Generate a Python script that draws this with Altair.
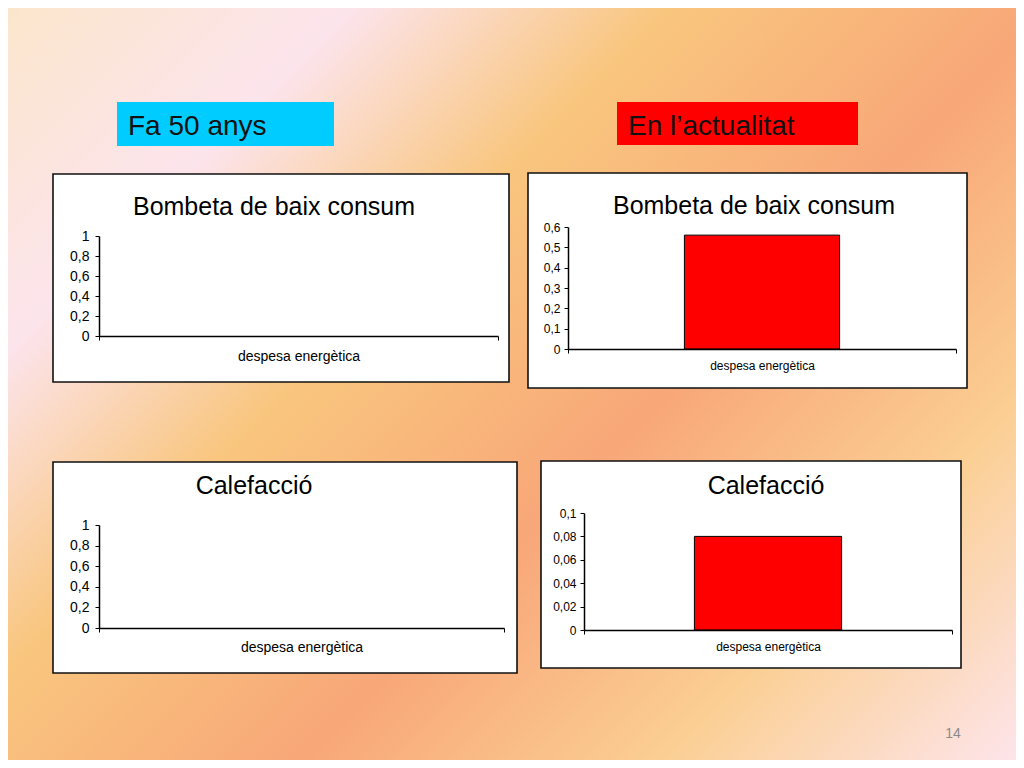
import altair as alt
import pandas as pd

# ---------------- data ----------------
categories = ["despesa energètica"]
fa50_bombeta = [0.0]
fa50_calefaccio = [0.0]
actual_bombeta = [0.56]
actual_calefaccio = [0.08]

panel_titles = ["Bombeta de baix consum", "Bombeta de baix consum", "Calefacció", "Calefacció"]
header_labels = ["Fa 50 anys", "En l’actualitat"]
ticks_fa50 = [0, 0.2, 0.4, 0.6, 0.8, 1]
ticks_bombeta = [0, 0.1, 0.2, 0.3, 0.4, 0.5, 0.6]
ticks_calefaccio = [0, 0.02, 0.04, 0.06, 0.08, 0.1]
page_number = "14"

# ---------------- layout (page coordinates) ----------------
OFF = 8
W, H = 1008, 752
FONT = "Liberation Sans"


def px(v):
    return v - OFF


panels = [
    dict(values=fa50_bombeta, title=panel_titles[0], ticks=ticks_fa50, ymax=1,
         box=(53, 174, 509, 382), ax=(99, 498), ay=(336, 236), tpos=(274, 215),
         tfs=14, tpad=6, lfs=14, lpad=9),
    dict(values=actual_bombeta, title=panel_titles[1], ticks=ticks_bombeta, ymax=0.6,
         box=(528, 173, 967, 388), ax=(568, 956), ay=(349, 227), tpos=(754, 214),
         tfs=12, tpad=4, lfs=12, lpad=7),
    dict(values=fa50_calefaccio, title=panel_titles[2], ticks=ticks_fa50, ymax=1,
         box=(53, 462, 517, 673), ax=(99, 504), ay=(628, 525), tpos=(254, 494),
         tfs=14, tpad=6, lfs=14, lpad=8),
    dict(values=actual_calefaccio, title=panel_titles[3], ticks=ticks_calefaccio, ymax=0.1,
         box=(541, 461, 961, 668), ax=(584, 952), ay=(630, 513), tpos=(766, 494),
         tfs=12, tpad=4, lfs=12, lpad=7),
]

headers = [
    dict(label=header_labels[0], box=(117, 102, 334, 146), color="#00ccff", tx=128, ty=135),
    dict(label=header_labels[1], box=(617, 102, 858, 145), color="#ff0000", tx=628, ty=135),
]

one = pd.DataFrame({"k": [0]})

layers = []

# background gradient
grad = alt.LinearGradient(
    gradient="linear",
    stops=[
        alt.GradientStop(color="#fbe6cc", offset=0.0),
        alt.GradientStop(color="#fce4ec", offset=0.195),
        alt.GradientStop(color="#f9c67e", offset=0.375),
        alt.GradientStop(color="#f8a778", offset=0.595),
        alt.GradientStop(color="#fbcf94", offset=0.80),
        alt.GradientStop(color="#fde4ea", offset=1.0),
    ],
    x1=0, y1=0, x2=1.1214, y2=0.8366,
)
layers.append(
    alt.Chart(one).mark_rect(fill=grad, strokeWidth=0).encode(
        x=alt.value(0), x2=alt.value(W), y=alt.value(0), y2=alt.value(H)
    )
)

# headers
for h in headers:
    x0, y0, x1, y1 = h["box"]
    layers.append(
        alt.Chart(one).mark_rect(fill=h["color"], strokeWidth=0).encode(
            x=alt.value(px(x0)), x2=alt.value(px(x1)), y=alt.value(px(y0)), y2=alt.value(px(y1))
        )
    )
    layers.append(
        alt.Chart(one).mark_text(font=FONT, fontSize=28, align="left", baseline="alphabetic",
                                 color="#111111").encode(
            x=alt.value(px(h["tx"])), y=alt.value(px(h["ty"])), text=alt.value(h["label"])
        )
    )

label_expr = "replace(format(datum.value, '~g'), '.', ',')"

for p in panels:
    x0, y0, x1, y1 = p["box"]
    layers.append(
        alt.Chart(one).mark_rect(fill="white", stroke="#111111", strokeWidth=1.6).encode(
            x=alt.value(px(x0)), x2=alt.value(px(x1)), y=alt.value(px(y0)), y2=alt.value(px(y1))
        )
    )
    layers.append(
        alt.Chart(one).mark_text(font=FONT, fontSize=25, align="center", baseline="alphabetic",
                                 color="black").encode(
            x=alt.value(px(p["tpos"][0])), y=alt.value(px(p["tpos"][1])), text=alt.value(p["title"])
        )
    )
    df = pd.DataFrame({"categoria": categories, "valor": p["values"]})
    layers.append(
        alt.Chart(df).mark_bar(fill="#ff0000", stroke="black", strokeWidth=1,
                               width=alt.RelativeBandSize(band=0.4)).encode(
            x=alt.X("categoria:N", title=None,
                    scale=alt.Scale(range=[px(p["ax"][0]), px(p["ax"][1])], paddingInner=0, paddingOuter=0),
                    axis=alt.Axis(orient="bottom", offset=px(p["ay"][0]) - H, labelAngle=0,
                                  tickBand="extent", tickSize=4, labelFontSize=p["lfs"],
                                  labelPadding=p["lpad"], domainWidth=1.5, zindex=2)),
            y=alt.Y("valor:Q", title=None,
                    scale=alt.Scale(domain=[0, p["ymax"]], range=[px(p["ay"][0]), px(p["ay"][1])],
                                    nice=False, zero=True),
                    axis=alt.Axis(orient="left", offset=-px(p["ax"][0]), values=p["ticks"],
                                  labelExpr=label_expr, tickSize=4, labelFontSize=p["tfs"],
                                  labelPadding=p["tpad"], domainWidth=1.5, zindex=2)),
            strokeOpacity=alt.condition("datum.valor > 0", alt.value(1), alt.value(0)),
            fillOpacity=alt.condition("datum.valor > 0", alt.value(1), alt.value(0)),
        )
    )

# page number
layers.append(
    alt.Chart(one).mark_text(font=FONT, fontSize=14, align="center", baseline="alphabetic",
                             color="#8a8a8a").encode(
        x=alt.value(px(953)), y=alt.value(px(738)), text=alt.value(page_number)
    )
)

chart = (
    alt.layer(*layers)
    .resolve_scale(x="independent", y="independent")
    .resolve_axis(x="independent", y="independent")
    .properties(width=W, height=H, padding=0, autosize=alt.AutoSizeParams(type="none"),
                background="white")
    .configure_view(stroke="transparent")
    .configure_axis(labelFont=FONT, grid=False, domainColor="black", tickColor="black",
                    labelColor="black", ticks=True)
)

chart.save("out.html", embed_options={"renderer": "svg", "actions": False})
